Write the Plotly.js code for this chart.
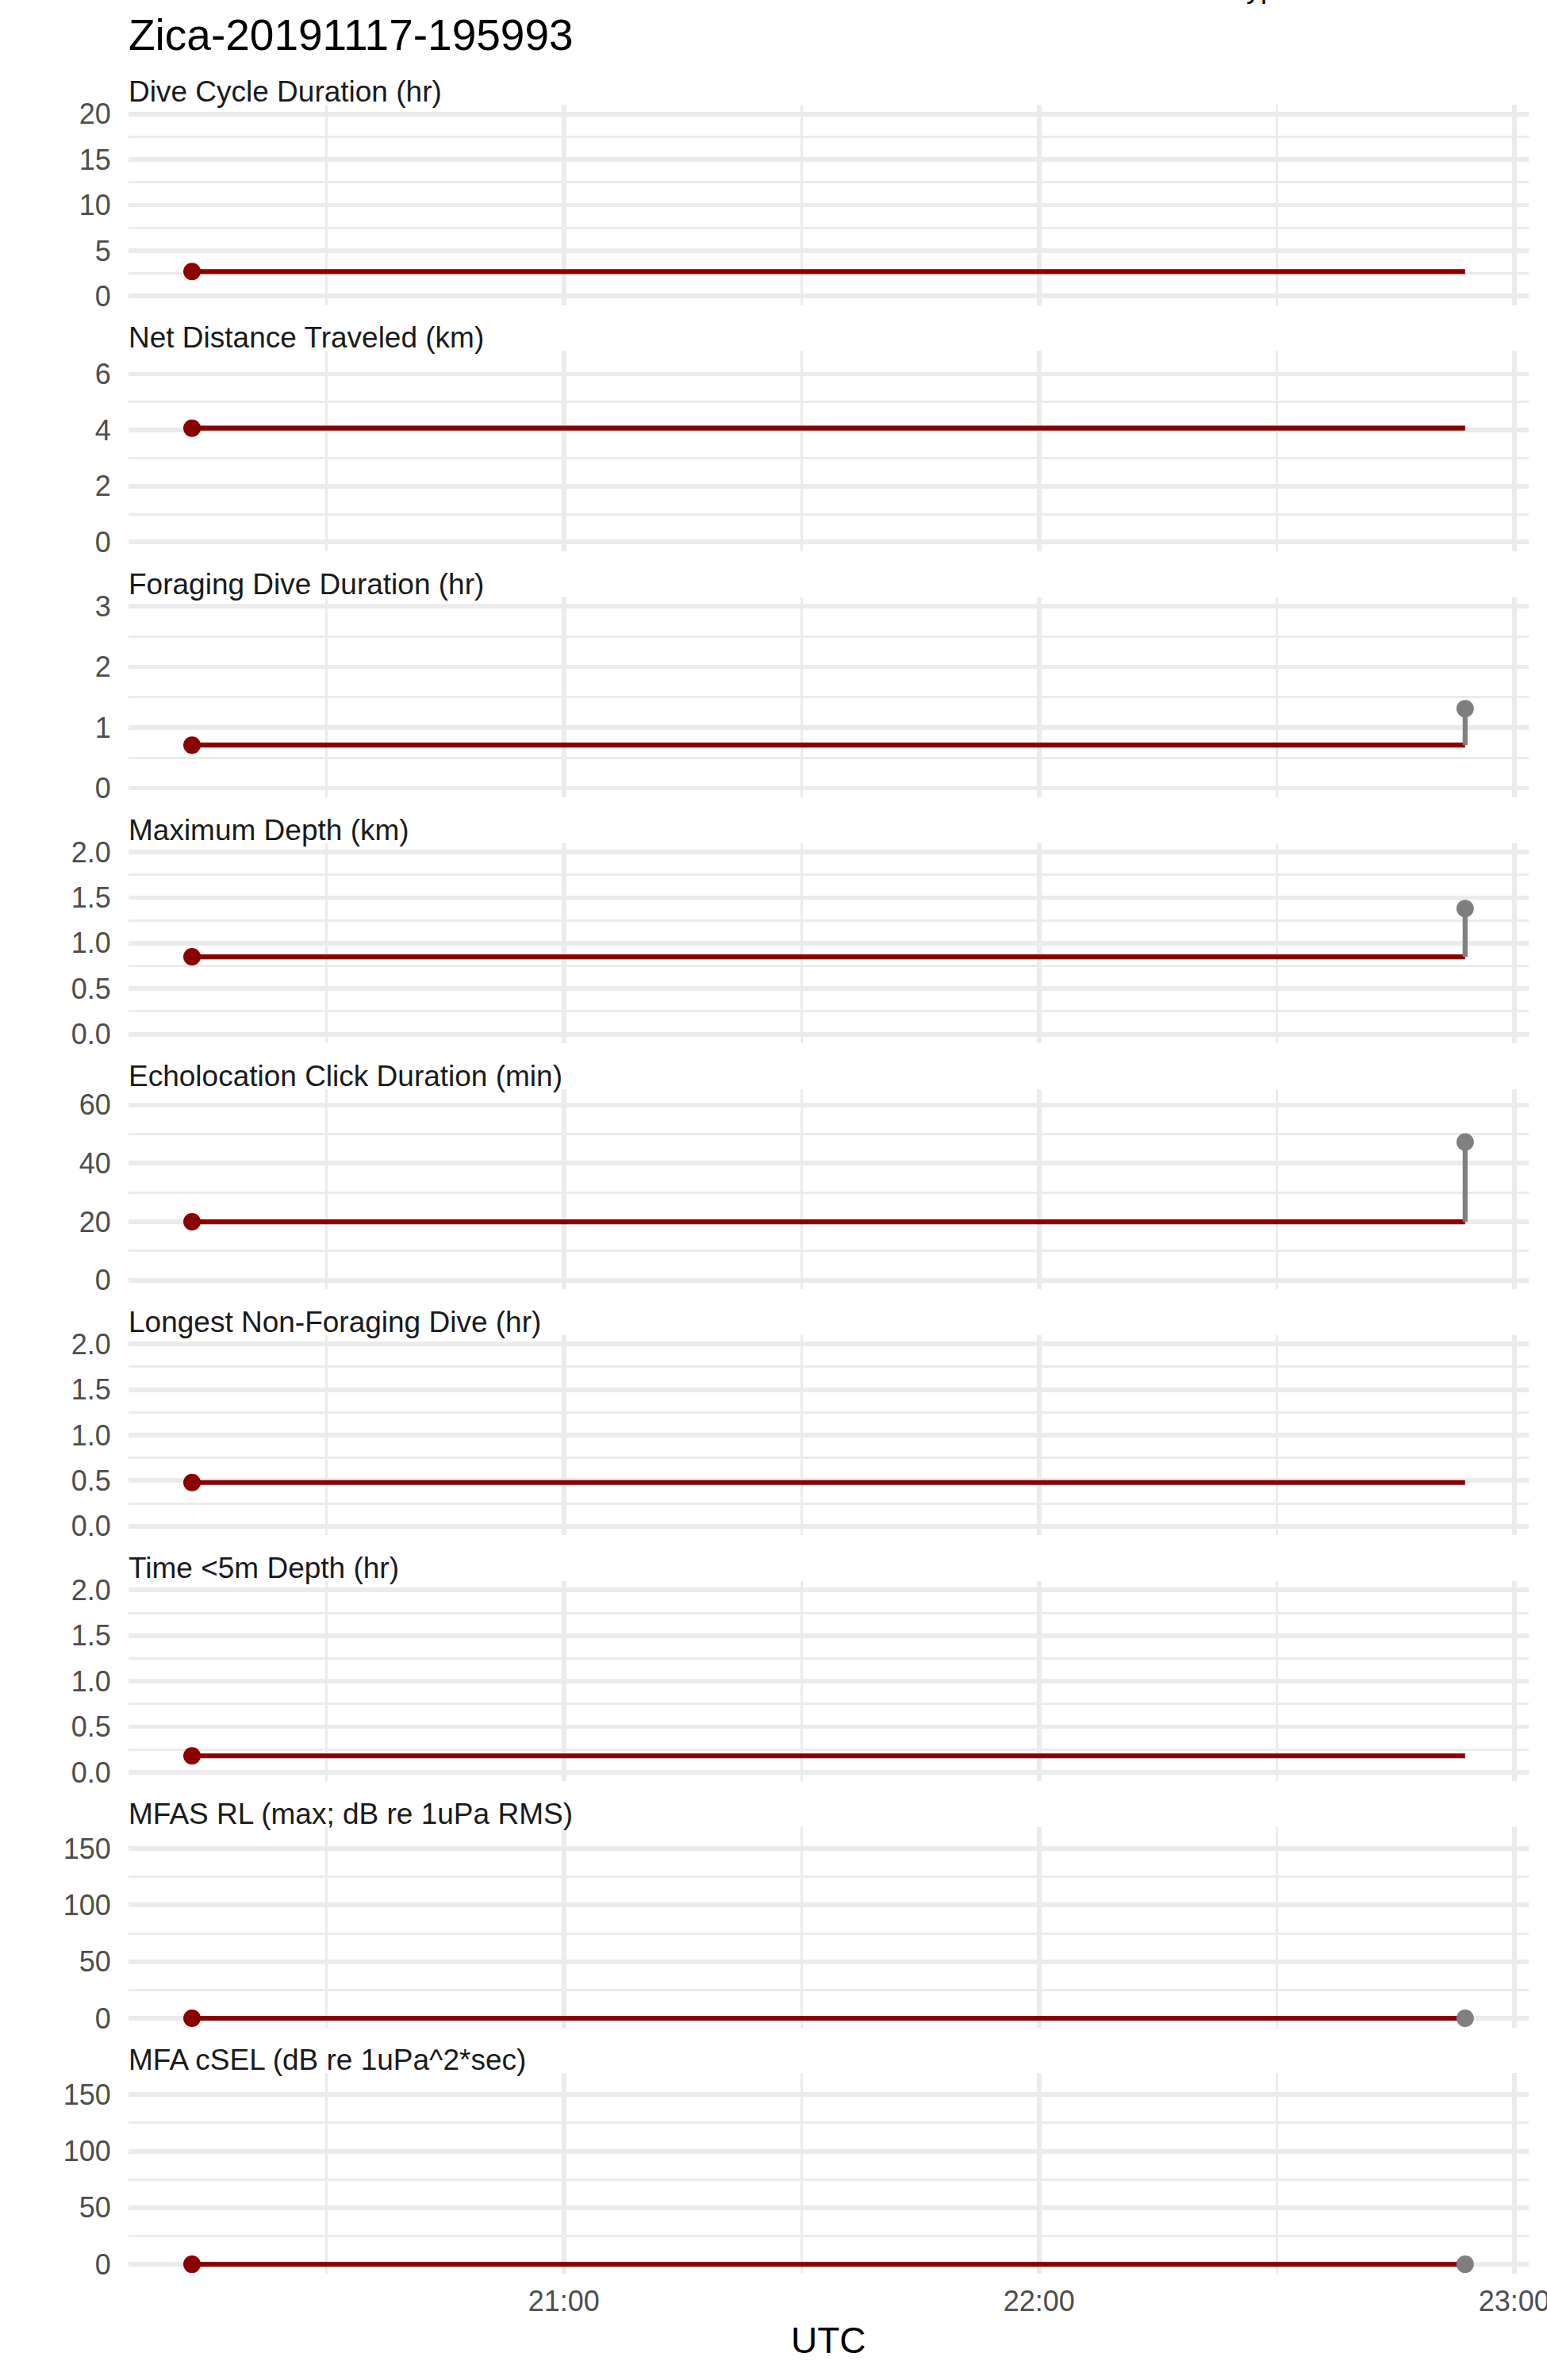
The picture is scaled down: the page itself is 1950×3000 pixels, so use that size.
<!DOCTYPE html>
<html>
<head>
<meta charset="utf-8">
<script src="https://cdn.plot.ly/plotly-3.0.1.min.js"></script>
<style>
  html, body { margin: 0; padding: 0; background: #ffffff; }
  #chart { width: 1950px; height: 3000px; }
</style>
</head>
<body>
<div id="chart"></div>
<script>
// ---------------- data ----------------
const chartTitle = "Zica-20191117-195993";
const panelTitles = [
  "Dive Cycle Duration (hr)",
  "Net Distance Traveled (km)",
  "Foraging Dive Duration (hr)",
  "Maximum Depth (km)",
  "Echolocation Click Duration (min)",
  "Longest Non-Foraging Dive (hr)",
  "Time &lt;5m Depth (hr)",
  "MFAS RL (max; dB re 1uPa RMS)",
  "MFA cSEL (dB re 1uPa^2*sec)"
];
const diveTimes = ["2019-11-17 20:13:03", "2019-11-17 22:53:48"];
const currentValues = [2.70, 4.07, 0.71, 0.85, 20, 0.48, 0.18, 0, 0];
const nextValues = [null, null, 1.31, 1.38, 47.3, null, null, 0, 0];
const xTickTimes = ["2019-11-17 21:00:00", "2019-11-17 22:00:00", "2019-11-17 23:00:00"];
const xTickLabels = ["21:00", "22:00", "23:00"];
const xAxisTitle = "UTC";
const legendFragment = "type";

// ---------------- layout constants ----------------
const W = 1950, H = 3000;
const plotLeft = 162, plotRight = 1927.5;
const firstPanelBottom = 384.8, panelStep = 310.1, panelHeight = 252.5;
const yUpper = [20, 6.5, 3, 2, 62.3, 2, 2, 161, 161];
const yDtick = [5, 2, 1, 0.5, 20, 0.5, 0.5, 50, 50];
const yFormat = ["d", "d", "d", ".1f", "d", ".1f", ".1f", "d", "d"];
const xRange = ["2019-11-17 20:05:02", "2019-11-17 23:01:50"];
const FONT = "Liberation Sans, Arial, Helvetica, sans-serif";
const RED = "#8B0000", GREY = "#7F7F7F", GRID = "#EBEBEB";
const MAJOR_W = 5.9, MINOR_W = 3.0, LINE_W = 6.2, MARKER = 22;

const traces = [];
const layout = {
  width: W, height: H,
  margin: {l: plotLeft, r: W - plotRight, t: 0, b: 0, pad: 0},
  paper_bgcolor: "#ffffff",
  plot_bgcolor: "#ffffff",
  showlegend: false,
  font: {family: FONT, size: 36, color: "#4D4D4D"},
  annotations: []
};

const nP = panelTitles.length;
for (let i = 0; i < nP; i++) {
  const suffix = i === 0 ? "" : String(i + 1);
  const bottomPx = firstPanelBottom + panelStep * i;
  const topPx = bottomPx - panelHeight;
  const domain = [1 - bottomPx / H, 1 - topPx / H];
  const U = yUpper[i];

  layout["yaxis" + suffix] = {
    domain: domain,
    anchor: "x" + suffix,
    range: [-0.05 * U, 1.05 * U],
    tickmode: "linear", tick0: 0, dtick: yDtick[i],
    tickformat: yFormat[i],
    showgrid: true, gridcolor: GRID, gridwidth: MAJOR_W,
    minor: {tickmode: "linear", tick0: 0, dtick: yDtick[i] / 2, showgrid: true, gridcolor: GRID, gridwidth: MINOR_W, ticks: ""},
    zeroline: false, showline: false,
    ticks: "outside", ticklen: 14, tickcolor: "rgba(0,0,0,0)",
    tickfont: {family: FONT, size: 36, color: "#4D4D4D"},
    fixedrange: true, automargin: false
  };
  const isBottom = i === nP - 1;
  layout["xaxis" + suffix] = {
    type: "date",
    anchor: "y" + suffix,
    range: xRange,
    tickmode: "array", tickvals: xTickTimes, ticktext: xTickLabels,
    showticklabels: isBottom,
    ticklabeloverflow: "allow",
    showgrid: true, gridcolor: GRID, gridwidth: MAJOR_W,
    minor: {tickmode: "linear", tick0: "2019-11-17 20:30:00", dtick: 3600000, showgrid: true, gridcolor: GRID, gridwidth: MINOR_W, ticks: ""},
    zeroline: false, showline: false,
    ticks: "outside", ticklen: 3, tickcolor: "rgba(0,0,0,0)",
    tickfont: {family: FONT, size: 36, color: "#4D4D4D"},
    fixedrange: true, automargin: false
  };

  // red: current dive step
  traces.push({
    type: "scatter", mode: "lines+markers",
    x: diveTimes, y: [currentValues[i], currentValues[i]],
    xaxis: "x" + suffix, yaxis: "y" + suffix,
    line: {color: RED, width: LINE_W},
    marker: {color: RED, size: [MARKER, 0], opacity: 1, line: {width: 0}},
    hoverinfo: "skip", cliponaxis: false
  });
  // grey: next value at end
  if (nextValues[i] !== null) {
    traces.push({
      type: "scatter", mode: "lines+markers",
      x: [diveTimes[1], diveTimes[1]], y: [currentValues[i], nextValues[i]],
      xaxis: "x" + suffix, yaxis: "y" + suffix,
      line: {color: GREY, width: LINE_W},
      marker: {color: GREY, size: [0, MARKER], opacity: 1, line: {width: 0}},
      hoverinfo: "skip", cliponaxis: false
    });
  }

  layout.annotations.push({
    text: panelTitles[i],
    xref: "paper", yref: "paper",
    x: 0, y: domain[1], xanchor: "left", yanchor: "bottom",
    xshift: -2, yshift: -6,
    showarrow: false,
    font: {family: FONT, size: 37, color: "#1A1A1A"}
  });
}

// main title
layout.annotations.push({
  text: chartTitle, xref: "paper", yref: "paper",
  x: 0, y: 1 - 76.8 / H, xanchor: "left", yanchor: "bottom", xshift: -2,
  showarrow: false, font: {family: FONT, size: 55, color: "#000000"}
});
// x axis title
layout.annotations.push({
  text: xAxisTitle, xref: "paper", yref: "paper",
  x: 0.5, y: 1 - 2978 / H, xanchor: "center", yanchor: "bottom",
  showarrow: false, font: {family: FONT, size: 46, color: "#000000"}
});
// cut-off legend text at the very top edge
layout.annotations.push({
  text: legendFragment, xref: "paper", yref: "paper",
  x: (1559 - plotLeft) / (plotRight - plotLeft), y: 1 - 7 / H, xanchor: "left", yanchor: "bottom",
  showarrow: false, font: {family: FONT, size: 36, color: "#000000"}
});

Plotly.newPlot("chart", traces, layout, {staticPlot: true, displayModeBar: false});
</script>
</body>
</html>
